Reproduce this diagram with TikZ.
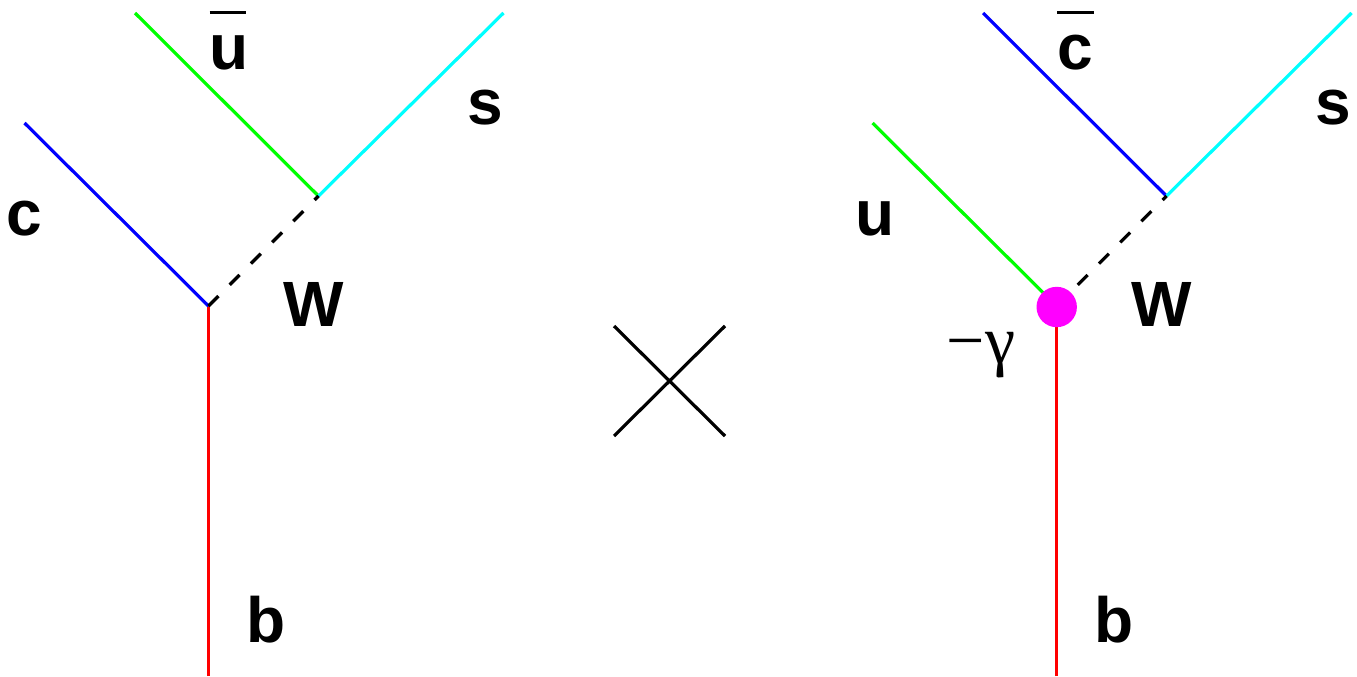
\documentclass[tikz,border=0pt]{standalone}
\usepackage{fontspec}
\setmainfont{Liberation Sans}
\newfontfamily\symfont{Liberation Serif}
\begin{document}
\begin{tikzpicture}[x=1pt,y=-1pt,
	quark/.style={line width=3.2pt},
	wline/.style={line width=3.2pt, draw=black, dash pattern=on 14pt off 16pt},
	bar/.style={line width=3.6pt, draw=black},
	lab/.style={font=\fontsize{64}{64}\selectfont\bfseries, color=black, inner sep=0pt, anchor=base}
	]
	\useasboundingbox (0,0) rectangle (1357,677);
	
	% Define colors
	\definecolor{qred}{RGB}{255,0,0}
	\definecolor{qgreen}{RGB}{0,255,0}
	\definecolor{qblue}{RGB}{0,0,255}
	\definecolor{qcyan}{RGB}{0,255,255}
	\definecolor{blob}{RGB}{255,0,255}
	
	% Left diagram
	\coordinate (bl) at (208.5,676);
	\coordinate (wl) at (208.5,306);
	\coordinate (tl) at (318.5,196);
	\coordinate (cl) at (24.5,123);
	\coordinate (ul) at (135,13);
	\coordinate (sl) at (503.5,13);
	\draw[quark, qred] (bl) -- (wl);
	\draw[quark, qblue] (wl) -- (cl);
	\draw[quark, qgreen] (tl) -- (ul);
	\draw[quark, qcyan] (tl) -- (sl);
	\draw[wline] (wl) -- (tl);
	
	% Labels
	\node[lab] (labc) at (24.5,235) {c};
	\node[lab] (labu) at (229.5,70) {u};
	\node[lab] (labs) at (485,124) {s};
	\node[lab] (labw) at (314,326) {W};
	\node[lab] (labb) at (266,642) {b};
	\coordinate (ubara) at (209.5,12.7);
	\coordinate (ubarb) at (246,12.7);
	\draw[bar] (ubara) -- (ubarb);
	
	% Cross
	\coordinate (xa) at (614,326);
	\coordinate (xb) at (725,436);
	\coordinate (xc) at (725,326);
	\coordinate (xd) at (614,436);
	\draw[quark, black] (xa) -- (xb);
	\draw[quark, black] (xc) -- (xd);
	
	% Right diagram
	\coordinate (br) at (1056.5,676);
	\coordinate (wr) at (1056.5,306);
	\coordinate (tr) at (1166.5,196);
	\coordinate (ur) at (872.5,123);
	\coordinate (cr) at (983,13);
	\coordinate (sr) at (1351.5,13);
	\draw[quark, qred] (br) -- (wr);
	\draw[quark, qgreen] (wr) -- (ur);
	\draw[quark, qblue] (tr) -- (cr);
	\draw[quark, qcyan] (tr) -- (sr);
	\draw[wline] (wr) -- (tr);
	\fill[blob] (1056.7,307) circle (20.2);
	
	% Labels
	\node[lab] (labur) at (875,235) {u};
	\node[lab] (labcr) at (1075.5,70) {c};
	\node[lab] (labsr) at (1333,124) {s};
	\node[lab] (labwr) at (1162,326) {W};
	\node[lab] (labbr) at (1114,642) {b};
	\coordinate (cbara) at (1057,12.7);
	\coordinate (cbarb) at (1094,12.7);
	\draw[bar] (cbara) -- (cbarb);
	\node[font=\fontsize{68}{68}\selectfont\symfont, inner sep=0pt, anchor=base] (labg) at (981,363) {−γ};
\end{tikzpicture}
\end{document}
